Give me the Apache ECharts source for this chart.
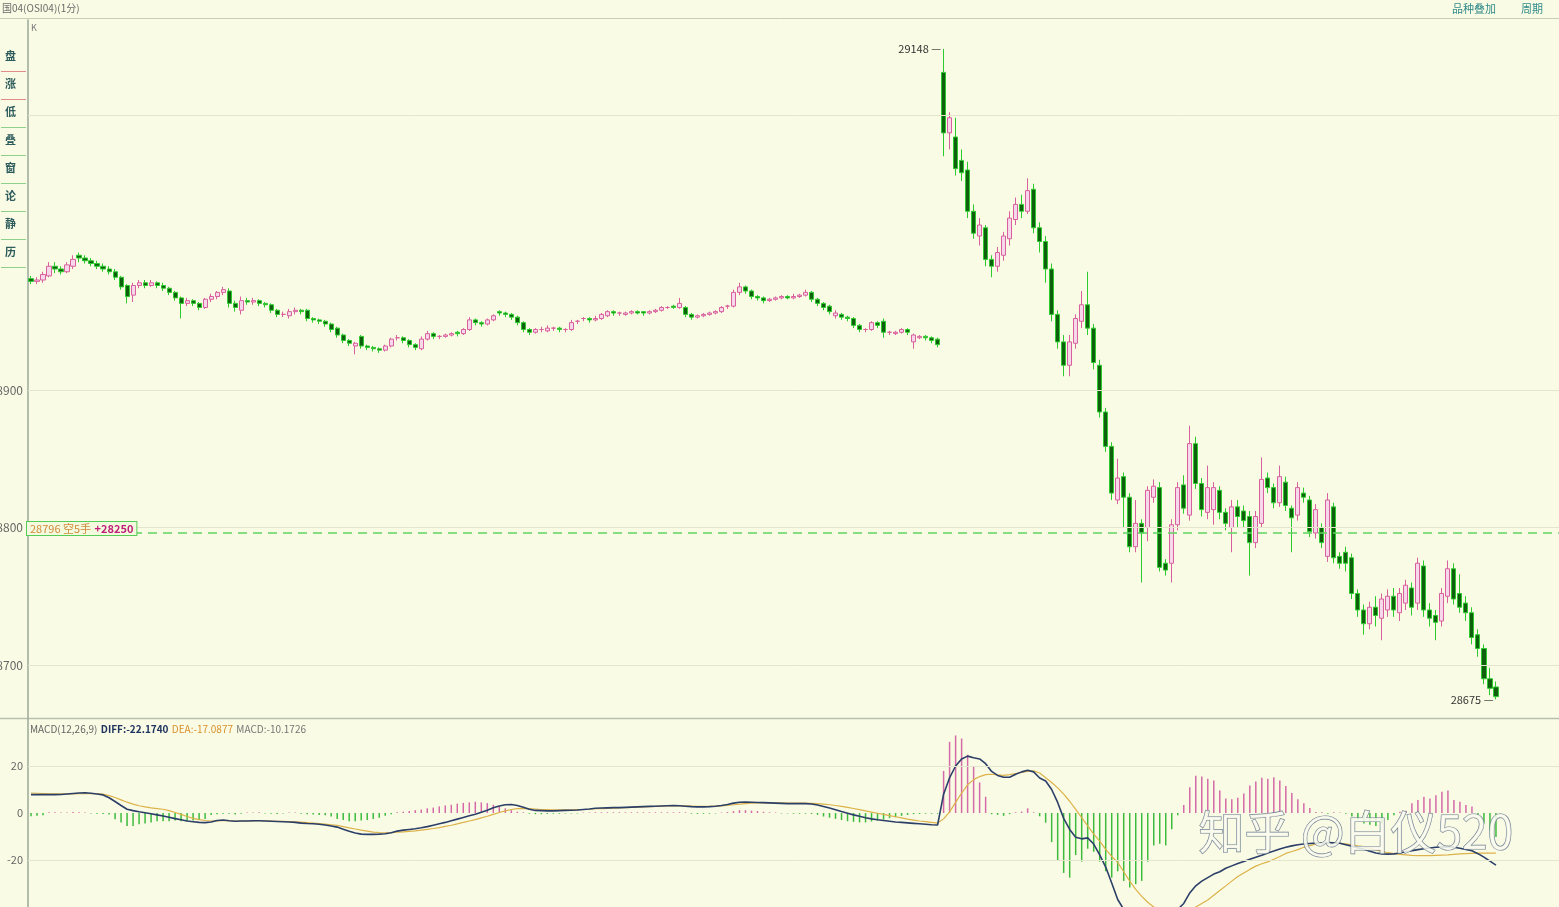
<!DOCTYPE html>
<html><head><meta charset="utf-8">
<script src="https://cdn.jsdelivr.net/npm/echarts@6/dist/echarts.min.js"></script>
<style>html,body{margin:0;padding:0;background:#fafbe4;}#c{width:1559px;height:907px;}</style>
</head><body><div id="c"></div>
<script>
// [open, close, low, high]
const kLeft = [
[28981,28979,28977,28983],[28979,28980,28977,28982],[28980,28984,28978,28986],[28983,28990,28982,28993],[28990,28988,28985,28993],
[28988,28986,28984,28990],[28986,28991,28985,28993],[28990,28995,28988,28998],[28998,28996,28993,29000],[28996,28994,28992,28998],
[28994,28992,28990,28996],[28992,28990,28988,28994],[28990,28988,28986,28992],[28988,28986,28984,28990],[28986,28982,28980,28988],
[28982,28975,28973,28983],[28976,28968,28963,28977],[28969,28976,28964,28978],[28976,28978,28974,28980],[28978,28976,28974,28980],
[28976,28978,28975,28980],[28978,28976,28974,28979],[28976,28974,28972,28978],[28974,28971,28969,28975],[28971,28967,28965,28972],
[28967,28963,28952,28968],[28963,28965,28961,28967],[28965,28963,28961,28966],[28963,28960,28958,28964],[28960,28966,28959,28967],
[28966,28968,28964,28970],[28968,28971,28966,28972],[28971,28973,28969,28975],[28972,28963,28960,28974],[28963,28960,28957,28965],
[28958,28965,28955,28968],[28965,28964,28962,28967],[28964,28965,28962,28967],[28965,28963,28961,28966],[28963,28962,28960,28964],
[28962,28958,28956,28963],[28958,28955,28953,28959],[28955,28955,28953,28957],[28954,28957,28952,28959],[28957,28958,28955,28960],
[28958,28957,28955,28959],[28958,28952,28950,28959],[28952,28951,28949,28953],[28951,28950,28948,28952],[28950,28948,28946,28951],
[28948,28944,28942,28949],[28945,28940,28938,28946],[28940,28936,28934,28941],[28936,28934,28932,28937],[28932,28934,28926,28935],
[28939,28932,28930,28940],[28932,28931,28929,28933],[28931,28930,28928,28932],[28930,28929,28927,28931],[28929,28932,28928,28933],
[28932,28937,28931,28938],[28938,28938,28936,28940],[28938,28936,28934,28939],[28936,28933,28931,28937],[28933,28931,28929,28934],
[28930,28937,28929,28939],[28937,28941,28936,28943],[28941,28939,28937,28942],[28939,28939,28937,28940],[28939,28940,28938,28941],
[28940,28941,28939,28942],[28942,28941,28939,28943],[28941,28944,28940,28945],[28944,28951,28943,28953],[28951,28949,28947,28952],
[28949,28948,28946,28950],[28948,28951,28947,28952],[28951,28954,28950,28955],[28957,28956,28954,28958],[28956,28955,28953,28957],
[28955,28953,28951,28956],[28953,28949,28947,28954],[28949,28944,28942,28950],[28944,28942,28940,28945],[28942,28944,28941,28945],
[28944,28944,28942,28946],[28943,28945,28942,28947],[28945,28945,28943,28946],[28945,28944,28942,28946],[28944,28944,28942,28945],
[28944,28949,28943,28951],[28950,28950,28948,28951],[28952,28952,28950,28953],[28952,28951,28949,28953],[28951,28952,28950,28954],
[28952,28955,28951,28956],[28954,28957,28953,28958],[28957,28956,28954,28958],[28956,28956,28954,28957],[28955,28956,28954,28957],
[28956,28957,28955,28958],[28957,28956,28955,28958],[28957,28956,28954,28957],[28956,28957,28955,28958],[28957,28958,28956,28959],
[28958,28960,28957,28961],[28960,28960,28959,28961],[28961,28960,28959,28962],[28960,28963,28959,28967],[28960,28955,28953,28961],
[28955,28953,28951,28956],[28953,28954,28952,28955],[28954,28955,28953,28956],[28955,28956,28954,28957],[28956,28957,28955,28958],
[28957,28960,28956,28961],[28961,28961,28959,28962],[28961,28971,28960,28973],[28971,28975,28969,28978],[28975,28972,28970,28976],
[28972,28968,28966,28973],[28968,28967,28965,28969],[28967,28965,28963,28968],[28965,28966,28964,28967],[28966,28967,28965,28968],
[28967,28968,28966,28969],[28968,28967,28966,28969],[28967,28968,28966,28970],[28968,28969,28967,28970],[28969,28971,28968,28973],
[28971,28966,28964,28972],[28966,28963,28961,28967],[28963,28960,28958,28964],[28961,28957,28955,28962],[28954,28956,28952,28958],
[28955,28953,28951,28956],[28953,28952,28950,28954],[28952,28947,28945,28953],[28947,28944,28942,28948],[28944,28944,28942,28945],
[28944,28949,28943,28950],[28949,28947,28945,28950],[28950,28942,28938,28952],[28942,28942,28940,28943],[28941,28942,28940,28943],
[28942,28944,28941,28945],[28944,28942,28940,28945],[28935,28940,28930,28941],[28938,28939,28937,28940],[28939,28938,28936,28940],
[28938,28936,28934,28939],[28937,28933,28931,28938]
];
const kRight = [
[29131,29087,29070,29148],[29087,29098,29075,29102],[29084,29061,29056,29098],[29067,29058,29052,29075],[29060,29030,29025,29066],
[29030,29014,29010,29035],[29012,29020,29005,29025],[29018,28995,28990,29020],[28995,28990,28982,28998],[28990,29000,28986,29004],
[28998,29012,28994,29015],[29010,29025,29005,29030],[29024,29035,29020,29040],[29035,29030,29025,29042],[29030,29045,29028,29054],
[29046,29018,29014,29050],[29018,29008,29000,29022],[29008,28988,28978,29012],[28988,28955,28950,28992],[28955,28935,28930,28958],
[28935,28918,28910,28940],[28918,28935,28910,28940],[28934,28952,28930,28955],[28950,28962,28945,28972],[28962,28945,28940,28986],
[28945,28920,28915,28948],[28918,28884,28880,28922],[28884,28859,28855,28887],[28859,28825,28820,28862],[28820,28836,28817,28850],
[28837,28822,28800,28840],[28822,28786,28782,28825],[28786,28803,28782,28820],[28803,28796,28760,28806],[28800,28827,28790,28830],
[28822,28830,28818,28835],[28829,28771,28768,28833],[28774,28769,28765,28777],[28774,28802,28760,28806],[28802,28829,28798,28833],
[28831,28814,28810,28838],[28809,28861,28805,28874],[28861,28832,28828,28866],[28832,28813,28808,28836],[28811,28829,28806,28845],
[28813,28829,28802,28833],[28827,28811,28806,28830],[28811,28803,28798,28814],[28800,28815,28782,28820],[28815,28808,28800,28820],
[28812,28805,28800,28816],[28808,28789,28765,28812],[28789,28808,28785,28812],[28803,28835,28800,28851],[28836,28829,28825,28840],
[28829,28818,28814,28832],[28818,28837,28815,28845],[28833,28816,28812,28837],[28814,28807,28782,28816],[28809,28829,28805,28833],
[28825,28822,28818,28829],[28820,28797,28793,28823],[28796,28813,28792,28817],[28800,28789,28785,28803],[28779,28820,28775,28825],
[28815,28778,28774,28818],[28779,28774,28770,28782],[28782,28774,28768,28786],[28778,28752,28748,28781],[28752,28740,28735,28755],
[28740,28730,28722,28744],[28730,28742,28726,28746],[28742,28736,28728,28750],[28734,28748,28718,28752],[28740,28750,28735,28755],
[28750,28740,28735,28756],[28738,28752,28732,28756],[28745,28758,28740,28762],[28756,28742,28736,28760],[28745,28774,28740,28778],
[28772,28740,28735,28776],[28740,28734,28728,28745],[28736,28731,28718,28740],[28732,28752,28728,28756],[28750,28770,28745,28776],
[28770,28748,28744,28774],[28752,28742,28738,28766],[28745,28738,28732,28750],[28738,28720,28715,28742],[28722,28712,28706,28726],
[28712,28690,28686,28715],[28690,28683,28678,28698],[28684,28677,28675,28688]
];
const diffLeft = [7.8,7.8,7.8,7.8,7.8,7.9,8.1,8.3,8.5,8.6,8.4,8.1,
7.7,6.5,4.9,3.2,1.6,1,0.5,0.1,-0.3,-0.8,-1.3,-1.8,-2.4,-2.9,-3.4,-3.7,-4,-4.1,
-3.8,-3.2,-3,-3.3,-3.5,-3.4,
-3.4,-3.3,-3.3,-3.4,-3.5,-3.6,-3.7,-3.8,-4,
-4.3,-4.5,-4.6,-4.8,-5.1,-5.5,-6,-6.9,-7.8,-8.5,-9,-9.1,-9.1,-9,-8.8,-8.4,-7.7,-7.3,-7,-6.7,
-6.3,-5.8,-5.2,-4.6,-4,-3.3,-2.6,-1.9,-1.2,-0.5,0.3,1.2,2.2,
3,3.5,3.6,3.2,2.4,1.6,1.1,1,0.9,0.9,1,1.1,1.2,1.3,1.5,1.7,
2,2.1,2.2,2.3,2.3,2.4,2.5,2.6,2.7,2.8,2.9,3,3.1,3.2,3.1,2.9,2.7,
2.6,2.6,2.7,2.9,3.2,3.6,4.2,4.6,4.7,4.6,4.5,4.4,4.3,4.2,4.1,4,4,4,4,
3.8,3.4,2.8,2.1,1.4,0.6,-0.1,-0.8,-1.4,-2,-2.5,-2.9,-3.2,-3.5,-3.8,-4,-4.2,-4.4,-4.6,-4.8,-5,-5.1];
const diffRight = [8,15,20,23,24.2,23.5,23,21,17.7,16,15.2,15.2,16.5,17.5,18.2,17.5,
14.9,13.6,10,4.5,-2.3,-7,-10.3,-11,-10.6,-13.2,-17.8,-23,-29.8,-36.8,
-41,-45,-47,-48,-48,-47,-46,-45,-43,-41,
-38.5,-34,-31,-29,-27.5,-26,-25,-23.5,-22.5,-21.5,-20.6,-19.7,-18.8,-18,-17,-16.2,-15.3,-14.6,
-14,-13.5,-13.2,-13,-12.8,-12.7,-12.6,-12.7,-12.9,-13.5,-14.1,-14.8,
-15.4,-16.3,-17,-17.4,-17.5,-17.4,-17,-16.5,-16,-15.6,-15.2,-14.9,-14.6,-14.4,-14.3,-14.6,-15,-15.5,-16.1,-17.3,-18.8,-20.5,-22.174];
const deaLeft = [8.5,8.4,8.3,8.2,8.1,8.1,8.1,8.1,8.2,8.2,8.2,8.2,
8,7.4,6.6,5.6,4.6,3.8,3.1,2.6,2.2,1.9,1.6,1,0.2,-0.6,-1.5,-2.3,-2.8,-3.2,
-3.4,-3.4,-3.3,-3.3,-3.4,-3.4,-3.4,-3.4,-3.3,-3.3,-3.4,-3.5,-3.6,-3.7,-3.8,-3.9,-4.1,-4.3,-4.5,-4.7,-5,
-5.3,-5.8,-6.3,-6.8,-7.3,-7.7,-8.1,-8.3,-8.4,-8.4,-8.2,-8,-7.8,-7.6,
-7.3,-7,-6.6,-6.2,-5.7,-5.2,-4.6,-4,-3.4,-2.8,-2.1,-1.4,-0.6,0.2,0.9,1.5,
1.9,2,1.9,1.7,1.5,1.4,1.3,1.3,1.3,1.3,1.4,1.5,1.6,
1.8,1.9,2,2.1,2.2,2.3,2.4,2.5,2.6,2.7,2.8,2.9,3,3,3,3,2.9,
2.8,2.8,2.8,2.9,3,3.2,3.5,3.8,4,4.2,4.3,4.3,4.3,4.3,4.3,4.2,4.2,4.2,4.2,
4.1,4,3.8,3.5,3.2,2.8,2.4,1.9,1.4,0.9,0.4,-0.1,-0.6,-1.1,-1.6,-2.1,-2.6,-3,-3.4,-3.7,-4,-4.3];
const deaRight = [-2.5,0.5,4.5,8.5,12,14.2,15.5,16.3,16.5,16.2,16,16.3,16.8,17.3,17.7,17.9,
17,15,13,10.7,8,5,1.5,-2,-5.5,-9,-12,-15.5,-18.5,-21,
-25,-29,-32.5,-35.5,-38,-40,-41.5,-42.5,-43,-43,
-42.5,-41.5,-40,-38.5,-37,-35,-33,-31,-29,-27,-25.5,-24,-22.6,-21.6,-20.8,-19.7,-18.5,-17.2,
-16.4,-15.6,-14.6,-13.9,-13.3,-13,-12.8,-12.8,-12.9,-13.1,-13.5,-14,
-14.3,-15,-15.7,-16.4,-16.9,-17.3,-17.6,-17.8,-18,-18.1,-18.1,-18.1,-18,-17.9,-17.8,-17.6,-17.4,-17.3,-17.2,-17.1,-17.1,-17.1,-17.0877];
const macdLeft = [-1.4,-1.2,-1,
0.3,0.3,0.2,0.2,0.4,0.3,0.2,-0.2,-0.3,-0.4,-0.6,
-2.7,-4,-5.5,-5.5,-4.8,-4.5,-4,-3.5,-3.5,-3.5,-3.2,-3.5,-3.5,-3.2,-3,-2.5,
-0.8,-0.5,-0.3,-0.3,-0.6,-0.3,0.2,0.2,0.3,-0.2,-0.3,-0.4,-0.2,0.2,0.2,-0.3,-0.5,-0.6,-0.8,-1,
-1.5,-2.5,-3,-3.5,-3.5,-3.2,-3,-2.5,-2,-1.2,-0.5,0.3,0.5,
0.8,1.2,1.5,2,2.3,2.8,3.2,3.5,4,4.3,4.5,4.8,4.5,4.2,3.5,2.8,2,1.2,
0.5,0.3,-0.3,-0.5,-0.5,-0.4,-0.3,-0.3,-0.2,-0.2,
-0.2,0.2,0.2,0.3,0.3,0.3,0.3,0.3,0.3,0.3,
0.3,0.3,0.3,0.3,0.3,0.3,0.3,0.3,0.3,-0.3,
-0.4,-0.3,-0.3,-0.2,0.2,0.4,0.8,1.2,1.2,1,
0.8,0.5,0.3,0.2,-0.2,-0.2,-0.3,-0.3,-0.3,-0.4,
-0.8,-1.5,-2,-2.5,-3,-3.5,-3.8,-4,-4,-3.6,-3.2,-2.8,-2.2,-1.8,-1.2,-0.8,
-0.5,-0.4,-0.3,-0.3,-0.3];
const macdRight = [17.9,30.3,33,31.7,24.8,20,13,6.9,
-0.5,-0.8,-1.2,-0.5,0.3,0.6,2,0.3,
-1.4,-4.1,-12.4,-20,-25.5,-27.5,-17.9,-20.7,-15.2,-16.5,-20.7,-24.8,-27.5,-24.8,-28.9,-31.7,-30.3,-28.9,-20.7,-13.8,-13.1,-13.8,-6.9,
-1,
3.4,11,15.8,15.5,14.6,13.8,9.6,6.2,5.8,6.5,8.3,11.7,13.4,15,14.6,15.2,13.8,11.5,8.5,5.8,4.2,2.1,
0.4,0.3,-0.3,0.3,0.2,-0.3,
-1.5,-3,-4.5,-5,-5.5,-4.5,-3,-1,0.5,1,
4.1,5.5,6.9,6.2,7.6,9,9.6,5.5,4.8,3.4,2.8,
-1,-4.5,-7.5,-10.1726];
const priceTicks = [29100, 28900, 28800, 28700];
const macdTicks = [20, 0, -20];
const costPrice = 28796;
const costText = ['28796 空5手', '+28250'];
const sideItems = ['盘','涨','低','叠','窗','论','静','历'];

const candles = kLeft.concat(kRight);
const diff = diffLeft.concat(diffRight);
const dea = deaLeft.concat(deaRight);
const macd = macdLeft.concat(macdRight);
const SLOTS = 255;
const cats = Array.from({length: SLOTS}, (_, i) => i);

let hiIdx = 0, loIdx = 0;
candles.forEach((c, i) => { if (c[3] > candles[hiIdx][3]) hiIdx = i; if (c[2] < candles[loIdx][2]) loIdx = i; });
const hiVal = candles[hiIdx][3], loVal = candles[loIdx][2];

const FONT = '"Noto Sans CJK SC", "Noto Sans", sans-serif';
const gridColor = '#e3e6cc';
const BG = '#fafbe4';

const chart = echarts.init(document.getElementById('c'));
const sideGraphics = [{type:'rect', z:50, shape:{x:0, y:38, width:27, height:232}, style:{fill:BG}}];
sideItems.forEach((t, k) => {
  sideGraphics.push({type:'text', z:51, left: 5, top: 50 + k*28, style:{text:t, fill:'#2e5c5c', font:'bold 11px ' + FONT}});
  sideGraphics.push({type:'line', z:51, shape:{x1:1, y1: 71.5 + k*28, x2: 26, y2: 71.5 + k*28}, style:{stroke: k < 2 ? '#e58a8a' : '#8fd08f', lineWidth:1}});
});

chart.setOption({
  animation: false,
  backgroundColor: BG,
  grid: [
    {left: 28, right: 0, top: 20, height: 698},
    {left: 28, right: 0, top: 719, height: 194}
  ],
  xAxis: [
    {type:'category', data: cats, gridIndex:0, boundaryGap:true, show:false},
    {type:'category', data: cats, gridIndex:1, boundaryGap:true, show:false}
  ],
  yAxis: [
    {type:'value', gridIndex:0, min:28661.45, max:29169.1, splitLine:{show:false}, axisLabel:{show:false}, axisTick:{show:false},
     axisLine:{show:true, lineStyle:{color:'#9aa89a', width:1.5}}},
    {type:'value', gridIndex:1, min:-40, max:40, splitLine:{show:false}, axisLabel:{show:false}, axisTick:{show:false},
     axisLine:{show:true, lineStyle:{color:'#9aa89a', width:1.5}}}
  ],
  series: [
    {
      type:'candlestick', xAxisIndex:0, yAxisIndex:0, data: candles, barWidth: 4.6,
      itemStyle:{color:'#f7d8ea', color0:'#0f5f0f', borderColor:'#d8609c', borderColor0:'#2ecb2e', borderWidth:1},
      markLine: {
        silent:true, symbol:['none','none'], animation:false,
        data: priceTicks.map(v => ({yAxis: v, lineStyle:{color:gridColor, type:'solid', width:1},
          label:{show:true, position:'start', formatter: String(v), color:'#666', fontSize:12, fontFamily:FONT, distance:5}}))
          .concat([{yAxis: costPrice, lineStyle:{color:'#62d462', type:[9,6], width:1.5},
            label:{show:true, position:'insideStartTop', distance:[-1, -2],
              formatter:'{a|' + costText[0] + '} {b|' + costText[1] + '}',
              backgroundColor:'#f4fadd', borderColor:'#55cc55', borderWidth:1, padding:[1,3,0,3],
              rich:{a:{color:'#d08a3a', fontSize:11, fontFamily:FONT}, b:{color:'#c0207a', fontSize:11, fontWeight:'bold', fontFamily:FONT}}}}])
      },
      markPoint: {
        silent:true, symbol:'circle', symbolSize:1, itemStyle:{color:'transparent'},
        data: [
          {coord:[hiIdx, hiVal], label:{show:true, position:'left', distance:2, formatter: hiVal + ' —', color:'#333', fontSize:11, fontFamily:FONT}},
          {coord:[loIdx, loVal], label:{show:true, position:'left', distance:2, formatter: loVal + ' —', color:'#333', fontSize:11, fontFamily:FONT}}
        ]
      }
    },
    {
      type:'bar', xAxisIndex:1, yAxisIndex:1, data: macd, barWidth: 1.5,
      itemStyle:{color: p => p.value >= 0 ? '#d46aa8' : '#3dbb3d'},
      markLine: {
        silent:true, symbol:['none','none'], animation:false,
        data: macdTicks.map(v => ({yAxis: v, lineStyle:{color: v === 0 ? 'transparent' : gridColor, type:'solid', width:1},
          label:{show:true, position:'start', formatter:String(v), color:'#666', fontSize:11, fontFamily:FONT, distance:5}}))
      }
    },
    {type:'line', xAxisIndex:1, yAxisIndex:1, data: dea, symbol:'none', lineStyle:{color:'#dcb24a', width:1.2}},
    {type:'line', xAxisIndex:1, yAxisIndex:1, data: diff, symbol:'none', lineStyle:{color:'#2b3f68', width:1.6}}
  ],
  graphic: [
    {type:'line', shape:{x1:0, y1:18.5, x2:1559, y2:18.5}, style:{stroke:'#c9cdb6', lineWidth:1}},
    {type:'line', shape:{x1:0, y1:718.5, x2:1559, y2:718.5}, style:{stroke:'#b7bfae', lineWidth:1.5}},
    {type:'text', left:2, top:3, style:{text:'国04(OSI04)(1分)', fill:'#6b6b6b', font:'10px ' + FONT}},
    {type:'text', left:1452, top:3, style:{text:'品种叠加', fill:'#2f8a8a', font:'11px ' + FONT}},
    {type:'text', left:1521, top:3, style:{text:'周期', fill:'#2f8a8a', font:'11px ' + FONT}},
    {type:'text', left:31, top:23, style:{text:'K', fill:'#777', font:'9px ' + FONT}},
    {type:'text', left:30, top:723, style:{rich:{
        m:{fill:'#666', font:'10px ' + FONT}, d:{fill:'#1f3560', font:'bold 10px ' + FONT},
        e:{fill:'#d8902a', font:'10px ' + FONT}, h:{fill:'#777', font:'10px ' + FONT}},
      text:'{m|MACD(12,26,9)} {d|DIFF:' + diff[diff.length-1].toFixed(4) + '} {e|DEA:' + dea[dea.length-1].toFixed(4) + '} {h|MACD:' + macd[macd.length-1].toFixed(4) + '}'}},
    {type:'text', left:1198, top:808, z:100, style:{text:'知乎 @白仪520', fill:'rgba(250,251,240,0.85)', stroke:'#6f7f90', lineWidth:1.2, font:'46px ' + FONT}}
  ].concat(sideGraphics)
});
</script>
</body></html>
